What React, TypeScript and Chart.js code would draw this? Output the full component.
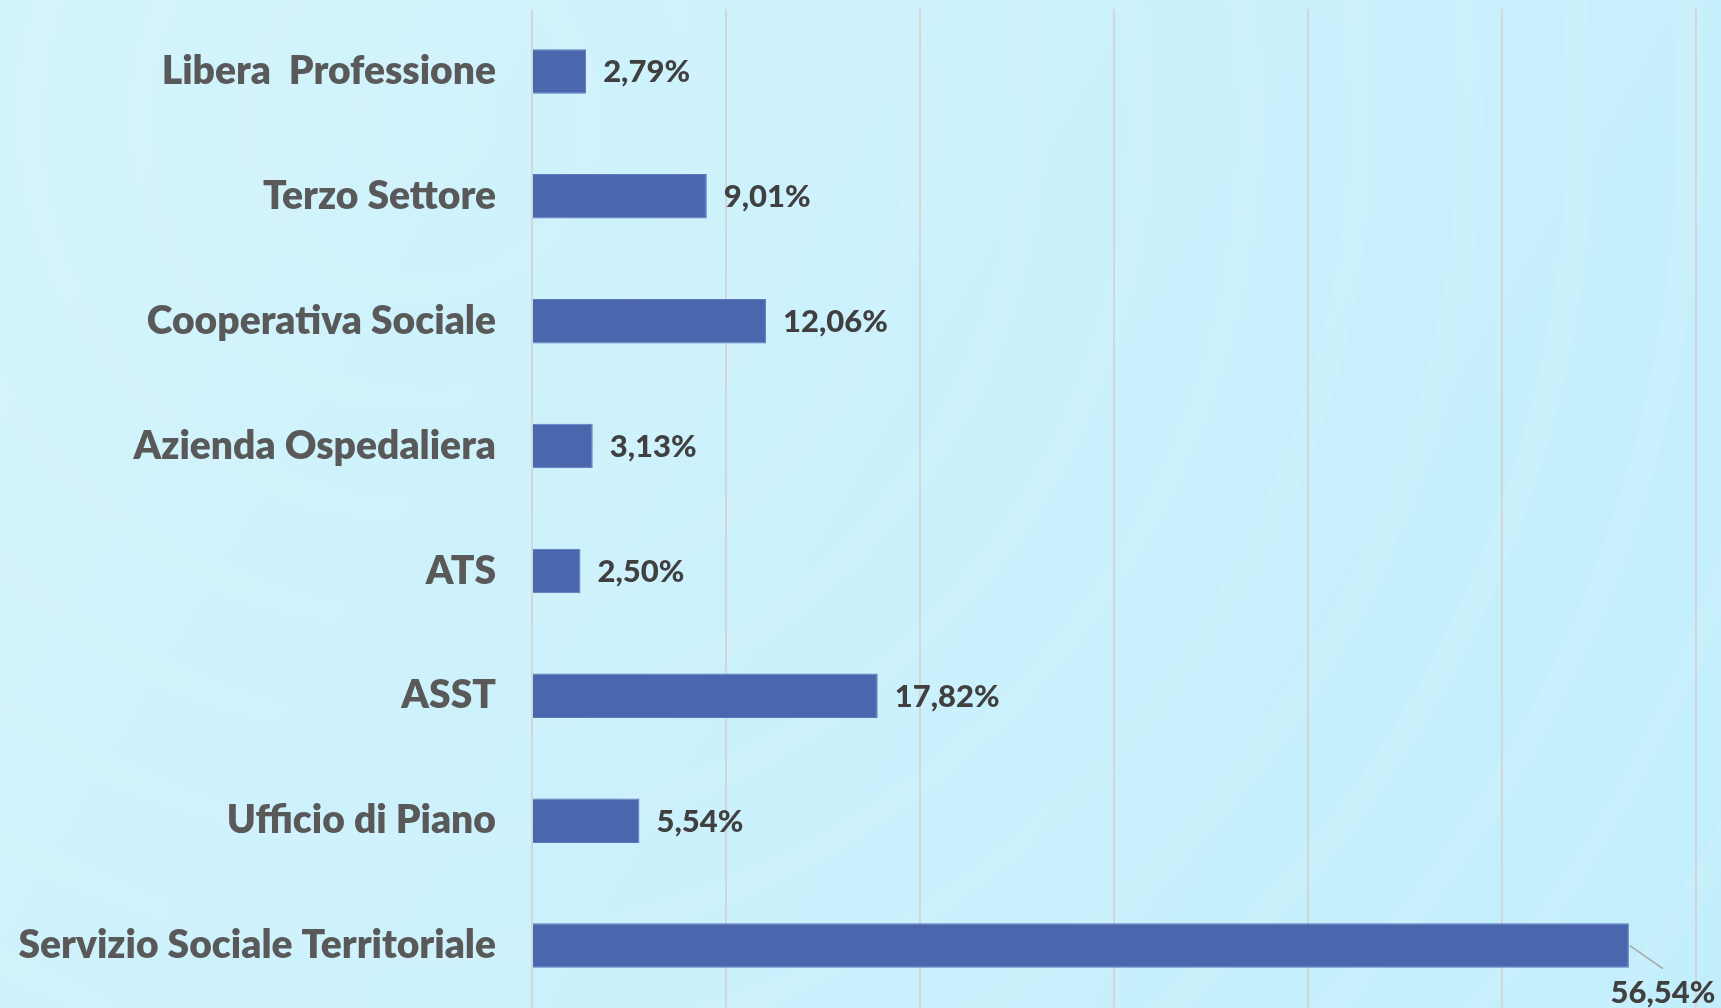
import React, { useEffect, useRef } from "react";
import { Chart, registerables } from "chart.js";

Chart.register(...registerables);

const categories = [
  "Libera  Professione",
  "Terzo Settore",
  "Cooperativa Sociale",
  "Azienda Ospedaliera",
  "ATS",
  "ASST",
  "Ufficio di Piano",
  "Servizio Sociale Territoriale",
];

const percentages = [2.79, 9.01, 12.06, 3.13, 2.5, 17.82, 5.54, 56.54];

const axisMin = 0;
const axisMax = 60;
const axisStep = 10;

const W = 1721;
const H = 1008;

const labelFont = 'Lato, "Noto Sans", sans-serif';

const fmt = (v: number) => v.toFixed(2).replace(".", ",") + "%";

const backgroundPlugin = {
  id: "bgPlugin",
  beforeDraw(chart: any) {
    const { ctx, width, height } = chart;
    ctx.save();
    const g = ctx.createLinearGradient(0, 0, width, height);
    g.addColorStop(0, "#d3f4fc");
    g.addColorStop(0.5, "#cbf1fc");
    g.addColorStop(1, "#c2eefc");
    ctx.fillStyle = g;
    ctx.fillRect(0, 0, width, height);
    ctx.strokeStyle = "rgba(255,255,255,0.07)";
    ctx.lineWidth = 26;
    for (let r = 60; r < 1600; r += 110) {
      ctx.beginPath();
      ctx.arc(420, 120, r, 0, Math.PI * 2);
      ctx.stroke();
    }
    ctx.restore();
  },
};

const valueLabelPlugin = {
  id: "valueLabels",
  afterDatasetsDraw(chart: any) {
    const { ctx } = chart;
    const meta = chart.getDatasetMeta(0);
    const data = chart.data.datasets[0].data as number[];
    ctx.save();
    ctx.font = `900 31px ${labelFont}`;
    ctx.fillStyle = "#404040";
    meta.data.forEach((el: any, i: number) => {
      const txt = fmt(data[i]);
      const tw = ctx.measureText(txt).width;
      const x = el.x;
      const y = el.y;
      if (x + 16 + tw > chart.width - 4) {
        ctx.strokeStyle = "#a6a6a6";
        ctx.lineWidth = 1.5;
        ctx.beginPath();
        ctx.moveTo(x + 1, y);
        ctx.lineTo(x + 34, y + 23);
        ctx.stroke();
        ctx.textAlign = "center";
        ctx.textBaseline = "middle";
        ctx.fillText(txt, x + 34, y + 47);
      } else {
        ctx.textAlign = "left";
        ctx.textBaseline = "middle";
        ctx.fillText(txt, x + 17, y + 1);
      }
    });
    ctx.restore();
  },
};

export default function App() {
  const canvasRef = useRef<HTMLCanvasElement | null>(null);

  useEffect(() => {
    let chart: Chart | null = null;
    let cancelled = false;
    const make = () => {
      if (cancelled || !canvasRef.current) return;
      chart = new Chart(canvasRef.current, {
        type: "bar",
        data: {
          labels: categories,
          datasets: [
            {
              data: percentages,
              backgroundColor: "#4a66ad",
              borderColor: "#5b78bd",
              borderWidth: 1,
              barPercentage: 0.357,
              categoryPercentage: 1,
            },
          ],
        },
        options: {
          indexAxis: "y",
          animation: false,
          responsive: true,
          maintainAspectRatio: false,
          layout: { padding: { top: 9, right: 25, bottom: 0, left: 0 } },
          plugins: {
            legend: { display: false },
            tooltip: { enabled: false },
          },
          scales: {
            x: {
              min: axisMin,
              max: axisMax,
              ticks: { display: false, stepSize: axisStep },
              grid: { color: "#d2d6d8", lineWidth: 2, drawTicks: false },
              border: { display: false },
              afterFit: (s: any) => {
                s.height = 0;
                s.paddingLeft = 0;
                s.paddingRight = 0;
              },
            },
            y: {
              grid: { display: false, drawTicks: false },
              border: { display: false },
              ticks: {
                color: "#595959",
                padding: 36,
                font: { family: labelFont, weight: "800", size: 39 },
              },
              afterFit: (s: any) => {
                s.width = 532;
                s.paddingTop = 0;
                s.paddingBottom = 0;
              },
            },
          },
        },
        plugins: [backgroundPlugin, valueLabelPlugin],
      } as any);
    };
    const fontsApi = (document as any).fonts;
    if (fontsApi && fontsApi.load) {
      Promise.all([
        fontsApi.load(`800 39px Lato`),
        fontsApi.load(`900 31px Lato`),
      ])
        .catch(() => null)
        .then(make);
    } else {
      make();
    }
    return () => {
      cancelled = true;
      if (chart) chart.destroy();
    };
  }, []);

  return (
    <div style={{ position: "absolute", left: 0, top: 0, width: W, height: H }}>
      <canvas ref={canvasRef} />
    </div>
  );
}
